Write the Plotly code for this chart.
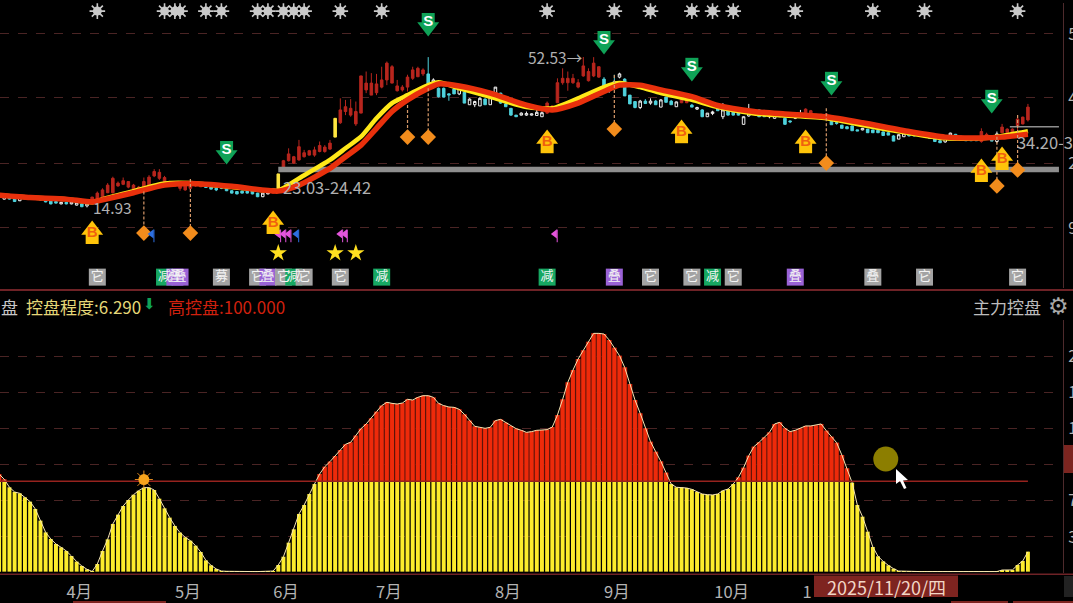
import plotly.graph_objects as go

W, H = 1073, 603
CJK = "Noto Sans CJK SC, Noto Sans, sans-serif"

# ---- candle data (price units), one entry per trading day
candle_kind = ("twttwttwttttwtwwtw" + "r" * 22 + "t" * 11 + "ww" + "r" + "y" + "r" * 10 + "y" + "r" * 17 +
               "twttttwtwwwtwwttttwwwww" + "r" * 11 + "twtwtttwtwtwttw" + "rr" + "twtwwtwtttwwwttwwtttww" +
               "r" * 5 + "t" * 6 + "w" + "t" * 6 + "wwttwwtttww" + "t" * 5 + "rrtw" + "r" * 6)
body_top = [
    18.0,17.6,17.4,17.2,17.6,17.6,17.6,17.6,17.2,16.8, 16.5,16.4,16.2,16.2,16.3,16.1,15.8,16.0,17.5,18.5,
    19.3,20.5,22.2,21.0,21.6,21.4,20.5,20.0,21.4,22.5, 23.9,23.7,22.4,21.4,21.2,20.7,20.7,21.0,21.1,20.8,
    20.3,20.1,19.7,20.1,20.3,19.1,18.9,19.0,19.0,19.1, 18.5,18.5,18.6,19.6,23.3,26.6,28.3,27.6,30.1,28.6,
    29.1,29.3,30.4,30.0,31.0,37.2,39.3,40.1,39.7,38.9, 47.8,46.0,46.0,45.8,46.8,51.0,50.1,45.3,45.0,47.5,
    49.3,49.7,49.3,48.3,46.8,44.7,44.7,43.3,44.5,45.0, 43.7,42.0,41.4,42.2,42.0,43.0,45.0,43.5,40.8,39.7,
    38.0,38.5,38.4,38.3,38.7,38.6,41.0,40.3,46.1,47.2, 47.2,47.2,46.1,50.3,48.9,51.0,50.1,47.0,45.3,46.4,
    48.3,47.0,43.0,41.4,41.5,41.5,41.5,41.5,41.8,42.5, 41.5,41.3,42.5,42.2,40.5,39.9,39.3,38.5,38.8,40.3,
    39.3,39.1,38.9,38.7,37.6,39.3,39.1,39.3,38.3,38.0, 38.3,38.4,37.2,36.5,38.0,38.0,39.5,39.1,38.2,38.2,
    38.3,37.0,36.1,35.5,35.1,35.3,34.3,34.7,34.5,34.3, 34.2,33.8,33.6,32.8,33.1,33.5,33.3,33.2,33.4,33.1,
    33.0,32.4,31.6,32.3,33.5,33.2,32.7,32.5,32.0,32.4, 33.9,33.2,32.8,33.3,35.0,34.5,34.5,37.0,37.5,40.0]
body_bottom = [
    17.5,17.0,17.0,16.4,16.6,17.1,17.1,17.1,16.8,16.3, 15.8,16.0,15.8,15.8,15.8,15.5,15.1,15.3,15.8,16.4,
    17.6,18.6,18.6,20.3,20.7,20.0,19.5,19.1,19.3,20.3, 22.8,22.2,20.8,20.4,20.3,19.7,19.3,19.7,20.3,20.1,
    19.9,19.5,19.3,19.7,19.1,18.5,18.3,18.5,18.5,18.3, 17.6,17.6,18.3,18.5,19.6,24.7,26.6,26.0,26.8,27.6,
    28.0,28.0,28.9,28.9,29.5,32.5,36.1,38.9,38.0,35.8, 38.5,44.3,43.0,43.6,45.0,46.8,46.0,44.1,44.3,45.0,
    47.2,47.6,48.3,44.5,45.0,42.6,42.5,43.0,43.3,43.3, 41.0,40.6,40.6,40.3,40.6,40.6,42.6,41.0,40.1,38.0,
    37.6,38.0,38.0,38.0,37.9,37.6,38.5,39.5,41.1,46.1, 46.1,46.1,45.0,47.8,46.6,47.8,47.5,44.9,44.1,45.5,
    47.5,42.8,40.8,39.9,39.9,40.9,41.0,40.6,40.0,41.2, 40.6,40.1,41.1,41.1,40.0,39.5,37.6,37.6,38.4,39.1,
    37.6,38.0,38.0,38.0,35.7,37.8,38.6,37.6,37.6,37.6, 37.2,37.6,35.7,36.3,37.2,37.5,38.3,38.0,37.7,37.6,
    37.3,35.6,35.9,34.7,34.6,34.1,34.0,34.3,33.6,33.6, 33.6,32.9,33.0,31.5,32.0,32.6,32.8,32.8,33.0,32.7,
    32.2,31.4,31.1,31.3,32.0,32.3,32.3,31.6,31.6,31.6, 31.4,32.2,31.5,31.4,33.6,33.6,33.6,35.3,35.8,36.8]
high = [
    18.2,17.7,17.5,17.3,17.7,17.7,17.7,17.7,17.3,16.9, 16.6,16.5,16.3,16.3,16.4,16.2,15.9,16.1,17.6,18.9,
    19.7,21.0,22.6,21.4,22.4,21.5,20.8,20.3,22.4,23.0, 24.5,24.5,22.8,21.6,21.4,21.1,20.8,22.0,21.4,21.0,
    20.4,20.2,19.8,20.2,20.4,19.2,19.0,19.1,19.2,19.2, 18.6,18.6,18.7,19.8,23.3,26.8,29.7,27.8,31.8,29.3,
    29.3,30.1,31.4,30.5,31.8,37.2,42.2,41.8,42.0,41.4, 47.8,48.9,48.5,48.3,50.1,51.4,50.5,46.8,45.5,48.1,
    50.1,50.1,49.7,52.5,47.2,44.9,44.9,43.4,45.5,45.5, 43.9,42.2,41.6,42.5,42.2,43.0,45.0,43.6,41.8,39.7,
    38.0,38.7,38.9,38.4,39.3,38.9,41.4,40.4,47.2,49.7, 48.9,48.3,47.0,52.53,49.7,52.5,50.1,47.5,45.5,48.1,
    48.6,47.2,43.0,41.4,41.8,42.0,42.2,41.8,42.0,42.6, 41.8,41.4,42.6,42.6,40.8,40.1,39.5,38.5,39.1,41.0,
    41.0,39.2,39.0,38.8,37.7,40.8,39.5,39.4,39.3,38.3, 38.5,38.5,37.5,36.6,38.0,39.3,39.7,39.3,38.3,38.3,
    38.5,37.1,36.2,35.5,35.2,35.3,34.3,34.8,34.5,34.3, 34.2,33.9,33.7,33.0,33.2,33.5,33.4,33.3,33.6,33.2,
    33.1,32.5,31.7,32.5,33.6,33.3,32.8,32.5,32.1,32.5, 34.7,33.6,33.0,33.9,35.8,34.7,34.7,38.0,37.6,40.8]
low = [
    17.3,16.9,16.9,16.3,16.5,17.0,17.0,17.0,16.7,16.2, 15.7,15.9,15.7,15.7,15.7,15.4,15.0,14.93,15.6,16.2,
    17.4,18.5,18.4,20.1,20.5,19.7,19.1,18.9,19.1,20.1, 22.5,21.8,20.5,20.1,20.1,19.1,19.1,19.3,20.1,20.0,
    19.8,19.4,19.0,19.5,19.0,18.4,18.2,18.4,18.4,18.2, 17.5,17.5,18.2,18.4,19.6,24.5,26.4,25.8,26.6,27.4,
    27.9,27.6,28.7,28.6,29.3,32.5,35.8,38.0,37.6,35.3, 38.5,43.5,43.0,43.0,44.7,45.5,46.0,43.9,43.9,43.9,
    46.8,47.5,47.8,44.3,44.7,42.4,42.4,41.6,43.3,43.0, 41.0,40.6,40.0,40.3,40.6,40.6,42.6,40.8,40.1,37.8,
    37.6,37.9,37.8,37.9,37.9,37.6,38.3,39.3,41.1,45.6, 44.1,45.8,44.7,47.6,46.4,47.5,47.3,44.7,43.6,45.1,
    47.2,42.8,40.8,39.7,39.5,40.8,40.6,40.6,40.0,41.2, 40.6,40.1,41.0,41.0,40.0,39.3,37.5,37.6,38.0,39.1,
    37.0,37.9,37.9,37.9,35.6,37.6,38.3,37.5,37.6,37.2, 37.1,37.5,35.6,36.0,37.0,37.4,38.3,37.9,37.6,37.5,
    37.2,35.6,35.6,34.7,34.5,34.1,34.0,34.2,33.6,33.6, 33.6,32.9,33.0,31.5,32.0,32.6,32.7,32.7,32.8,32.6,
    32.1,31.4,31.1,31.1,31.9,32.3,32.3,31.6,31.6,31.6, 31.1,32.2,31.5,31.0,33.6,33.6,33.6,33.9,35.7,36.4]
days = list(range(len(body_top)))
assert len(candle_kind) == len(days) == len(body_bottom) == len(high) == len(low) == 200

# ---- moving averages read at selected days
ma_days = [0,6,13,18,20,26,32,37,45,54,58,64,67,70,73,76,79,83,85,89,95,102,107,112,117,120,124,128,134,139,146,152,160,167,176,183,190,194,199]
ma_red = [18.0,17.4,17.0,16.3,16.8,18.6,20.5,20.9,20.2,19.0,20.5,24.7,27.6,30.5,34.7,38.9,41.8,44.7,45.8,45.3,43.5,40.5,39.3,41.0,43.9,45.5,45.5,44.3,42.6,40.4,38.9,38.3,37.6,36.1,33.9,32.5,32.3,32.5,33.2]
ma_yellow = [18.0,17.4,17.0,16.2,17.0,19.0,20.9,21.0,20.0,19.2,22.2,26.8,29.7,32.6,37.2,41.0,43.0,45.5,46.2,44.7,42.6,40.0,39.7,42.2,45.0,46.0,45.0,43.5,41.8,40.0,38.4,37.9,37.2,35.5,33.5,32.2,32.2,32.8,34.0]

# ---- control degree (lower panel), one per day
control = [
    108.1,102.2,93.4,88.2,86.7,82.3,77.5,69.4,56.5,43.5, 36.2,30.6,26.9,22.9,17.3,11.1,6.3,2.6,0.2,8.5,
    22.9,35.8,52.8,63.1,72.7,79.3,85.2,89.7,93.0,93.0, 90.4,80.8,70.1,59.8,50.6,43.2,38.0,34.3,28.8,21.8,
    12.5,7.0,3.0,0.7,0.4,0.2,0.2,0.2,0.1,0.1, 0.1,0.1,0.1,0.7,7.4,16.6,32.1,46.9,63.8,73.8,
    86.0,97.0,108.1,116.2,121.8,128.0,134.7,141.0,143.2,150.6, 158.3,163.5,169.7,177.1,183.8,187.5,186.3,185.6,186.7,190.8,
    190.0,193.0,194.8,194.8,193.0,186.3,183.8,182.3,181.9,179.7, 174.2,167.2,160.9,159.8,158.7,159.8,167.2,168.6,164.9,161.3,
    158.3,156.5,154.2,155.0,156.5,156.8,157.2,160.1,173.4,190.8, 209.6,223.2,235.4,245.0,254.6,263.8,263.8,263.1,256.5,248.0,
    239.1,226.2,207.7,190.0,175.3,158.7,143.9,132.8,122.1,109.6, 97.0,93.4,93.4,92.6,91.1,88.2,86.0,85.2,84.9,86.0,
    89.7,91.5,97.0,104.4,115.1,128.4,138.4,143.2,148.7,154.2, 163.5,165.3,158.7,155.0,156.5,158.7,161.3,161.3,162.0,163.5,
    156.1,149.4,142.8,129.2,114.4,98.5,73.8,60.9,44.3,27.3, 17.0,11.4,7.0,3.3,0.7,0.4,0.2,0.2,0.1,0.1,
    0.1,0.1,0.1,0.1,0.1,0.1,0.1,0.1,0.1,0.1, 0.1,0.1,0.1,0.1,1.8,1.8,1.9,7.4,11.8,22.1]
assert len(control) == 200
HIGH_CONTROL = 100.0

# ---- signals
buy_days = [18,53,106,132,156,190,194]
buy_price = [8.8,11.3,31.5,34.0,31.5,24.3,27.3]
sell_days = [44,83,117,134,161,192]
sell_price = [28.5,60.5,56.0,49.3,45.8,41.3]
diamond_days = [28,37,79,83,119,160,193,197]
diamond_price = [8.5,8.5,32.5,32.5,34.5,26.0,20.3,24.3]
diamond_top = [18.9,22.0,40.5,44.7,48.0,39.7,32.6,38.0]
star_top_days = [19,32,34,35,40,43,50,52,55,57,59,66,74,106,119,126,134,138,142,154,169,179,197]
STAR_TOP_PRICE = 64.0
gold_star_days = [54,65,69]
GOLD_STAR_PRICE = 3.5
magenta_flag_days = [54,55,56,66,66.9,107.5]
blue_flag_days = [29.5,57.5]
FLAG_PRICE = 8.3
tag_days = [19,32,34,35,43,50,52,55,57,59,66,74,106,119,126,134,138,142,154,169,179,197]
tag_text = ["它","减","叠","叠","募","它","叠","它","减","它","它","减","减","叠","它","它","减","它","叠","叠","它","它"]
tag_kind = ["g","m","p","p","g","g","p","g","m","g","g","m","m","p","g","g","m","g","p","g","g","g"]
TAG_PRICE = -2.5
TAG_COLOR = {"g": "#a3a3a3", "m": "#17a862", "p": "#9a62d6"}

SUPPORT_LEVEL = 24.42
RESIST_LEVEL = 35.1
price_ticks = [58.3, 42.3, 26.0, 9.8]
price_labels = ["5", "4", "2", "9"]
ctrl_ticks = [38.4, 78.6, 118.4, 158.3, 198.2, 238.0]
ctrl_labels = ["3", "7", "", "1", "1", "2"]
month_ticks = [15.5, 36.5, 55.5, 75.4, 98.4, 119.5, 141.7, 156.3]
month_labels = ["4月", "5月", "6月", "7月", "8月", "9月", "10月", "1"]

# ---- geometry
PLOT_R = 1059
X_SCALE = 5.17
X_OFF = 0.9
x_range = [(0 + X_OFF) / X_SCALE, (PLOT_R + X_OFF) / X_SCALE]
top_range = [66.78 - 290 / 4, 66.78]
bot_range = [-2.6, 310.7]

def fx(p): return p / W
def fy(p): return 1 - p / H

fig = go.Figure()

def on_top(tr):
    tr.update(xaxis="x", yaxis="y")
    fig.add_trace(tr)

def on_bot(tr):
    tr.update(xaxis="x2", yaxis="y2")
    fig.add_trace(tr)

# reference levels
on_top(go.Scatter(x=[54, 205], y=[SUPPORT_LEVEL] * 2, mode="lines", line=dict(color="#8e8e8e", width=5.5)))
on_top(go.Scatter(x=[195.5, 205], y=[RESIST_LEVEL] * 2, mode="lines", line=dict(color="#8e8e8e", width=1.5)))

# candles
STYLES = {"r": ("#b8261e", "#b8261e"), "t": ("#4fd2dc", "#4fd2dc"), "w": ("#f0f0f0", "#000000"), "y": ("#ffe640", "#ffe640")}
for k, (lc, fc) in STYLES.items():
    sel = [c == k for c in candle_kind]
    pick = lambda a: [v if s else None for v, s in zip(a, sel)]
    side = dict(line=dict(color=lc, width=1), fillcolor=fc)
    on_top(go.Candlestick(x=days, open=pick(body_bottom), close=pick(body_top), high=pick(high), low=pick(low),
                          increasing=side, decreasing=side, whiskerwidth=0, showlegend=False))

# moving averages
on_top(go.Scatter(x=ma_days, y=ma_yellow, mode="lines", line=dict(color="#ffe818", width=4.5, shape="spline", smoothing=0.6)))
on_top(go.Scatter(x=ma_days, y=ma_red, mode="lines", line=dict(color="#e8300c", width=5.5, shape="spline", smoothing=0.6)))

# dashed drops to diamonds
dx, dy = [], []
for d, p, t in zip(diamond_days, diamond_price, diamond_top):
    dx += [d, d, None]
    dy += [t, p, None]
on_top(go.Scatter(x=dx, y=dy, mode="lines", line=dict(color="#d89a6a", width=1.2, dash="3px,2px")))
on_top(go.Scatter(x=diamond_days, y=diamond_price, mode="markers", marker=dict(symbol="diamond", size=12, color="#f28c1c")))

# top asterisks
on_top(go.Scatter(x=star_top_days, y=[STAR_TOP_PRICE] * len(star_top_days), mode="markers",
                  marker=dict(symbol="asterisk-open", size=13, color="#c9c9c9", line=dict(color="#c9c9c9", width=1.6))))
on_top(go.Scatter(x=star_top_days, y=[STAR_TOP_PRICE] * len(star_top_days), mode="markers",
                  marker=dict(symbol="circle", size=9, color="#c9c9c9")))

# flags and stars
def stems(days_list, color):
    on_top(go.Scatter(x=[d + 0.45 for d in days_list], y=[FLAG_PRICE - 0.5] * len(days_list), mode="markers",
                      marker=dict(symbol="line-ns-open", size=9, color=color, line=dict(color=color, width=1))))
on_top(go.Scatter(x=magenta_flag_days, y=[FLAG_PRICE] * len(magenta_flag_days), mode="markers", marker=dict(symbol="triangle-left", size=8, color="#e455dc")))
stems(magenta_flag_days, "#e455dc")
on_top(go.Scatter(x=blue_flag_days, y=[FLAG_PRICE] * len(blue_flag_days), mode="markers", marker=dict(symbol="triangle-left", size=8, color="#2d6fe0")))
stems(blue_flag_days, "#2d6fe0")
on_top(go.Scatter(x=gold_star_days, y=[GOLD_STAR_PRICE] * len(gold_star_days), mode="markers", marker=dict(symbol="star", size=13, color="#ffdf20")))

# B and S arrows
B_C, S_C = "#ffc40a", "#0fa257"
on_top(go.Scatter(x=buy_days, y=[p - 1.4 for p in buy_price], mode="markers", marker=dict(symbol="square", size=13, color=B_C)))
on_top(go.Scatter(x=buy_days, y=[p + 0.5 for p in buy_price], mode="markers", marker=dict(symbol="triangle-up", size=19, color=B_C)))
on_top(go.Scatter(x=buy_days, y=[p - 0.4 for p in buy_price], mode="text", text=["B"] * len(buy_days), textposition="middle center",
                  textfont=dict(family="Liberation Sans", size=15, color="#f0600f", weight="bold")))
on_top(go.Scatter(x=sell_days, y=[p + 1.4 for p in sell_price], mode="markers", marker=dict(symbol="square", size=13, color=S_C)))
on_top(go.Scatter(x=sell_days, y=[p - 0.5 for p in sell_price], mode="markers", marker=dict(symbol="triangle-down", size=19, color=S_C)))
on_top(go.Scatter(x=sell_days, y=[p + 0.6 for p in sell_price], mode="text", text=["S"] * len(sell_days), textposition="middle center",
                  textfont=dict(family="Liberation Sans", size=15, color="#ffffff", weight="bold")))

# tags
on_top(go.Scatter(x=tag_days, y=[TAG_PRICE] * len(tag_days), mode="markers+text", text=tag_text, textposition="middle center",
                  marker=dict(symbol="square", size=17, color=[TAG_COLOR[k] for k in tag_kind]),
                  textfont=dict(family=CJK, size=13, color="#f4f4f4")))

# level label that runs off the right edge: a data-anchored text, so it does not push the page margin
on_top(go.Scatter(x=[202.3], y=[30.6], mode="text", text=["34.20-3"], textposition="middle center", cliponaxis=False,
                  textfont=dict(family=CJK, size=16.5, color="#b0b0b0")))

# lower panel
yellow_part = [min(v, HIGH_CONTROL) for v in control]
red_part = [max(v - HIGH_CONTROL, 0) for v in control]
on_bot(go.Bar(x=days, y=yellow_part, width=0.76, marker=dict(color="#fdec2c", line=dict(width=0))))
on_bot(go.Bar(x=days, y=red_part, base=[HIGH_CONTROL] * 200, width=1.0, marker=dict(color="#7c1a0c", line=dict(width=0))))
on_bot(go.Bar(x=days, y=red_part, base=[HIGH_CONTROL] * 200, width=0.76, marker=dict(color="#ee2a0a", line=dict(width=0))))
on_bot(go.Scatter(x=days, y=control, mode="lines", line=dict(color="#f6e6b4", width=1)))
on_bot(go.Scatter(x=[0, 199], y=[HIGH_CONTROL] * 2, mode="lines", line=dict(color="#96231e", width=1.5)))
on_bot(go.Scatter(x=[28], y=[102], mode="markers", marker=dict(symbol="asterisk-open", size=15, color="#e08a20", line=dict(color="#e08a20", width=1))))
on_bot(go.Scatter(x=[28], y=[102], mode="markers", marker=dict(symbol="circle", size=11, color="#f7a41d")))
on_bot(go.Scatter(x=[171.5], y=[124.7], mode="markers", marker=dict(symbol="circle", size=25, color="#8c7e00")))

# annotations
def label(text, px, py, color="#b0b0b0", size=15, anchor="left", family=CJK):
    fig.add_annotation(xref="paper", yref="paper", x=fx(px), y=fy(py), text=text, showarrow=False,
                       xanchor=anchor, yanchor="middle", font=dict(family=family, size=size, color=color), borderpad=0)

label("14.93", 92, 207, size=15.5)
label("23.03-24.42", 282, 187, size=16.5)
label("52.53→", 527, 57, size=15.5)
label("盘", 0, 306, "#c8c8c8", 17)
label("控盘程度:6.290", 25, 306, "#e6d878", 17)
label("⬇", 142, 304, "#0fa257", 15, family="DejaVu Sans")
label("高控盘:100.000", 167, 306, "#d0200e", 17)
label("主力控盘", 972, 306, "#bdbdbd", 17)
label("⚙", 1047, 306, "#a8a8a8", 23, family="DejaVu Sans")

shapes = []
def rect(x0, y0, x1, y1, color):
    shapes.append(dict(type="rect", xref="paper", yref="paper", x0=fx(x0), x1=fx(x1), y0=fy(y0), y1=fy(y1),
                       fillcolor=color, line=dict(width=0), layer="above"))
rect(0, 289, W, 291, "#6e2226")
rect(0, 573.5, W, 575, "#6e2226")
rect(1063, 3, 1064, 288, "#4e2a2c")
rect(1063, 320, 1064, 573, "#4e2a2c")
rect(1064, 445, W, 473, "#7c2520")
rect(1064, 576, W, 597, "#222222")
rect(814, 575.5, 958, 597, "#7e2420")
rect(73, 601, 166, 603, "#7e2420")
rect(951, 601, 1008, 603, "#7e2420")
rect(1013, 601, W, 603, "#7e2420")
# mouse pointer
cursor = [(896, 469), (896, 484), (900, 481), (904, 489), (906.5, 488), (903, 480.5), (908, 480)]
path = "M " + " L ".join(f"{fx(a):.5f},{fy(b):.5f}" for a, b in cursor) + " Z"
shapes.append(dict(type="path", xref="paper", yref="paper", path=path, fillcolor="#ffffff", line=dict(width=0), layer="above"))

label("2025/11/20/四", 886, 587, "#f2d6c6", 18, anchor="center")

axis_common = dict(showgrid=False, zeroline=False, showline=False, ticks="", range=x_range, domain=[0, fx(PLOT_R)],
                   automargin=False, tickfont=dict(family=CJK, size=16.5, color="#b4b4b4"))
y_common = dict(zeroline=False, showline=False, side="right", ticks="outside", ticklen=5, tickcolor="rgba(0,0,0,0)",
                automargin=False, showgrid=True, gridcolor="#4a2424", griddash="dash", gridwidth=1,
                tickfont=dict(family=CJK, size=16, color="#b4b4b4"), tickmode="array")

fig.update_layout(
    width=W, height=H, margin=dict(l=0, r=0, t=0, b=0), paper_bgcolor="#000000", plot_bgcolor="#000000",
    showlegend=False, barmode="overlay", shapes=shapes, hovermode=False,
    xaxis=dict(axis_common, anchor="y", showticklabels=False, rangeslider=dict(visible=False)),
    xaxis2=dict(axis_common, anchor="y2", tickmode="array", tickvals=month_ticks, ticktext=month_labels,
                ticks="outside", ticklen=3, tickcolor="rgba(0,0,0,0)"),
    yaxis=dict(y_common, anchor="x", domain=[fy(290), 1], range=top_range, tickvals=price_ticks, ticktext=price_labels),
    yaxis2=dict(y_common, anchor="x2", domain=[fy(574), fy(291)], range=bot_range, tickvals=ctrl_ticks, ticktext=ctrl_labels),
)

fig.write_html("out.html", config=dict(displayModeBar=False, responsive=False),
               default_width=f"{W}px", default_height=f"{H}px",
               post_script="document.documentElement.style.overflow='hidden';document.body.style.overflow='hidden';"
                           "document.body.style.margin='0';document.body.style.background='#000';"
                           "var gd=document.getElementById('{plot_id}');gd.style.overflow='hidden';"
                           "gd.parentElement.style.overflow='hidden';gd.parentElement.style.width='1073px';"
                           "Plotly.relayout(gd,{width:1073,height:603});")
